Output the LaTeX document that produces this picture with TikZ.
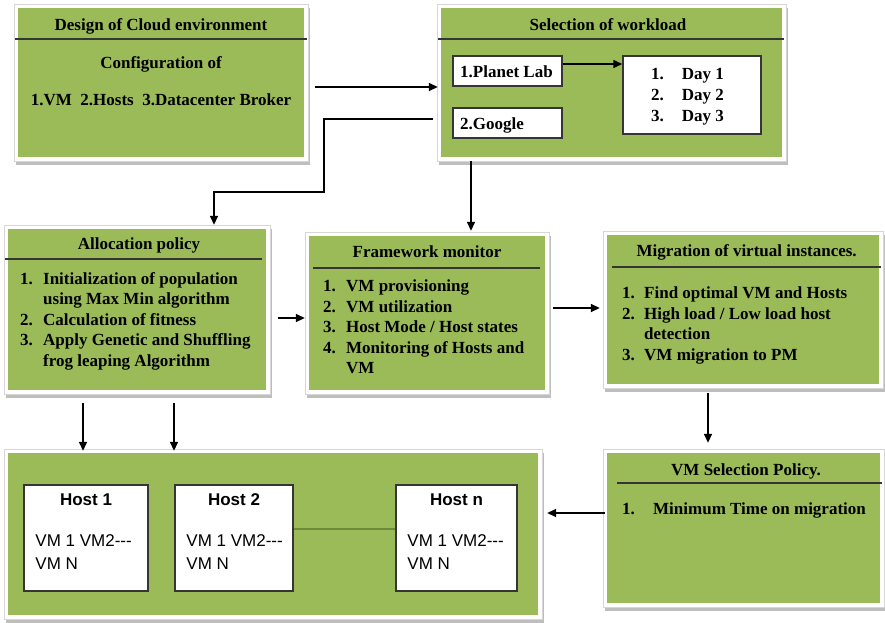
\documentclass[tikz,border=0pt]{standalone}
\usepackage{fontspec}
\setmainfont{Liberation Serif}
\setsansfont{Liberation Sans}
\usetikzlibrary{arrows.meta}
\definecolor{panelgreen}{HTML}{9BBB59}
\definecolor{framegray}{HTML}{D6D6D6}
\definecolor{shadowgray}{HTML}{BEBEBE}
\definecolor{rulegray}{HTML}{353535}
\definecolor{linkgreen}{HTML}{6C8C3C}
\tikzset{
  panel/.style={fill=panelgreen, inner sep=0pt,
    preaction={fill=shadowgray, draw=shadowgray, line width=8pt,
      transform canvas={xshift=2pt,yshift=-4pt}},
    preaction={draw=framegray, line width=9pt},
    preaction={draw=white, line width=7pt}},
  whitebox/.style={draw=rulegray, line width=1.5pt, fill=white, inner sep=0pt},
  headline/.style={draw=rulegray, line width=2pt},
  ttl/.style={font=\fontsize{17}{20.5}\selectfont\bfseries, inner sep=0pt, anchor=base},
  lst/.style={font=\fontsize{17}{20.5}\selectfont\bfseries, inner sep=0pt, anchor=north west},
  hostttl/.style={font=\sffamily\fontsize{17}{20}\selectfont\bfseries, inner sep=0pt, anchor=base},
  hosttxt/.style={font=\sffamily\fontsize{17}{20}\selectfont, inner sep=0pt, anchor=base west},
  arr/.style={-{Triangle[length=9pt,width=8pt]}, line width=1.5pt}
}
\begin{document}
\begin{tikzpicture}[x=1pt,y=-1pt]
  \useasboundingbox (0,0) rectangle (885,622);
  % green panels
  \node [panel, minimum width=286pt, minimum height=149pt] (design) at (161,82.5) {};
  \node [panel, minimum width=341pt, minimum height=149pt] (workload) at (611.5,82.5) {};
  \node [panel, minimum width=258pt, minimum height=161pt] (alloc) at (137,309.5) {};
  \node [panel, minimum width=236pt, minimum height=154pt] (monitor) at (427,313) {};
  \node [panel, minimum width=272pt, minimum height=149pt] (migrate) at (743,309.5) {};
  \node [panel, minimum width=273pt, minimum height=150pt] (vmsel) at (743.5,528) {};
  \node [panel, minimum width=530pt, minimum height=162pt] (hosts) at (273,534) {};
  % header rules
  \draw [headline] ([xshift=-3pt,yshift=-31pt]design.north west) -- ([xshift=3pt,yshift=-31pt]design.north east);
  \draw [headline] ([xshift=-3pt,yshift=-31pt]workload.north west) -- ([xshift=2pt,yshift=-31pt]workload.north east);
  \draw [headline] ([xshift=-3pt,yshift=-30pt]alloc.north west) -- ([xshift=-4pt,yshift=-30pt]alloc.north east);
  \draw [headline] ([xshift=4pt,yshift=-32pt]monitor.north west) -- ([xshift=-5pt,yshift=-32pt]monitor.north east);
  \draw [headline] ([xshift=5pt,yshift=-32pt]migrate.north west) -- ([xshift=2pt,yshift=-32pt]migrate.north east);
  \draw [headline] ([xshift=10pt,yshift=-30pt]vmsel.north west) -- ([xshift=2pt,yshift=-30pt]vmsel.north east);
  % design of cloud environment
  \node [ttl] (t-design) at (161,30) {Design of Cloud environment};
  \node [ttl] (conf) at (161,68) {Configuration of};
  \node [ttl] (conf-items) at (161,105) {1.VM\ \ 2.Hosts\ \ 3.Datacenter Broker};
  % selection of workload
  \node [ttl] (t-workload) at (608,30) {Selection of workload};
  \node [whitebox, minimum width=109pt, minimum height=30pt] (planet) at (507.5,71) {};
  \node [whitebox, minimum width=109pt, minimum height=30pt] (google) at (507.5,123) {};
  \node [whitebox, minimum width=138pt, minimum height=78pt] (days) at (692,95) {};
  \node [ttl, anchor=base west] (t-planet) at (460,77) {1.Planet Lab};
  \node [ttl, anchor=base west] (t-google) at (460,129) {2.Google};
  \node [lst, font=\fontsize{17}{21}\selectfont\bfseries] (t-days) at (651,64.3)
    {\begin{tabular}{@{}l@{\hspace{18pt}}l@{}}1. & Day 1\\ 2. & Day 2\\ 3. & Day 3\end{tabular}};
  % allocation policy
  \node [ttl] (t-alloc) at (139,249.3) {Allocation policy};
  \node [lst] (l-alloc) at (20,269.7)
    {\begin{tabular}{@{}p{23pt}@{}l@{}}1. & Initialization of population\\ & using Max Min algorithm\\
      2. & Calculation of fitness\\ 3. & Apply Genetic and Shuffling\\ & frog leaping Algorithm\end{tabular}};
  % framework monitor
  \node [ttl] (t-monitor) at (427,257.7) {Framework monitor};
  \node [lst] (l-monitor) at (323,277.3)
    {\begin{tabular}{@{}p{23pt}@{}l@{}}1. & VM provisioning\\ 2. & VM utilization\\
      3. & Host Mode / Host states\\ 4. & Monitoring of Hosts and\\ & VM\end{tabular}};
  % migration of virtual instances
  \node [ttl] (t-migrate) at (746.7,256.7) {Migration of virtual instances.};
  \node [lst] (l-migrate) at (622,284)
    {\begin{tabular}{@{}p{22pt}@{}l@{}}1. & Find optimal VM and Hosts\\ 2. & High load / Low load host\\
      & detection\\ 3. & VM migration to PM\end{tabular}};
  % vm selection policy
  \node [ttl] (t-vmsel) at (746,475) {VM Selection Policy.};
  \node [lst] (l-vmsel) at (622,499.7)
    {\begin{tabular}{@{}p{31pt}@{}l@{}}1. & Minimum Time on migration\end{tabular}};
  % hosts
  \node [whitebox, minimum width=124pt, minimum height=106pt] (host1) at (86,538) {};
  \node [whitebox, minimum width=118pt, minimum height=106pt] (host2) at (234,538) {};
  \node [whitebox, minimum width=121pt, minimum height=106pt] (hostn) at (456.5,538) {};
  \foreach \h/\lbl in {host1/Host 1, host2/Host 2, hostn/Host n}
  {
    \node [hostttl] (\h-ttl) at ([yshift=-21.5pt]\h.north) {\lbl};
    \node [hosttxt] (\h-vm) at ([xshift=12pt,yshift=-62pt]\h.north west) {VM 1 VM2{-}{-}{-}};
    \node [hosttxt] (\h-vmn) at ([xshift=12pt,yshift=-85pt]\h.north west) {VM N};
  }
  \draw [linkgreen, line width=2pt] ([yshift=9pt]host2.east) -- ([yshift=9pt]hostn.west);
  % connectors
  \coordinate (bend) at (324,192);
  \draw [arr] ([xshift=11pt,yshift=-4.5pt]design.east) -- ([xshift=-3pt,yshift=-4.5pt]workload.west);
  \draw [arr] ([yshift=7pt]planet.east) -- ([yshift=31pt]days.west);
  \draw [arr] ([xshift=-8pt,yshift=-36.5pt]workload.west) -| (bend) -| ([xshift=77pt,yshift=4pt]alloc.north);
  \draw [arr] ([xshift=-140.5pt,yshift=-4pt]workload.south) -- ([xshift=44pt,yshift=5pt]monitor.north);
  \draw [arr] ([xshift=12pt,yshift=-8.5pt]alloc.east) -- ([xshift=-4pt,yshift=-5pt]monitor.west);
  \draw [arr] ([xshift=8pt,yshift=5pt]monitor.east) -- ([xshift=-7pt,yshift=1.5pt]migrate.west);
  \draw [arr] ([xshift=-35pt,yshift=-9pt]migrate.south) -- ([xshift=-35.5pt,yshift=10pt]vmsel.north);
  \draw [arr] ([xshift=-2pt,yshift=15pt]vmsel.west) -- ([xshift=9pt,yshift=21pt]hosts.east);
  \draw [arr] ([xshift=-54pt,yshift=-13pt]alloc.south) -- ([xshift=-190pt,yshift=2pt]hosts.north);
  \draw [arr] ([xshift=37pt,yshift=-13pt]alloc.south) -- ([xshift=-99pt,yshift=2pt]hosts.north);
\end{tikzpicture}
\end{document}
